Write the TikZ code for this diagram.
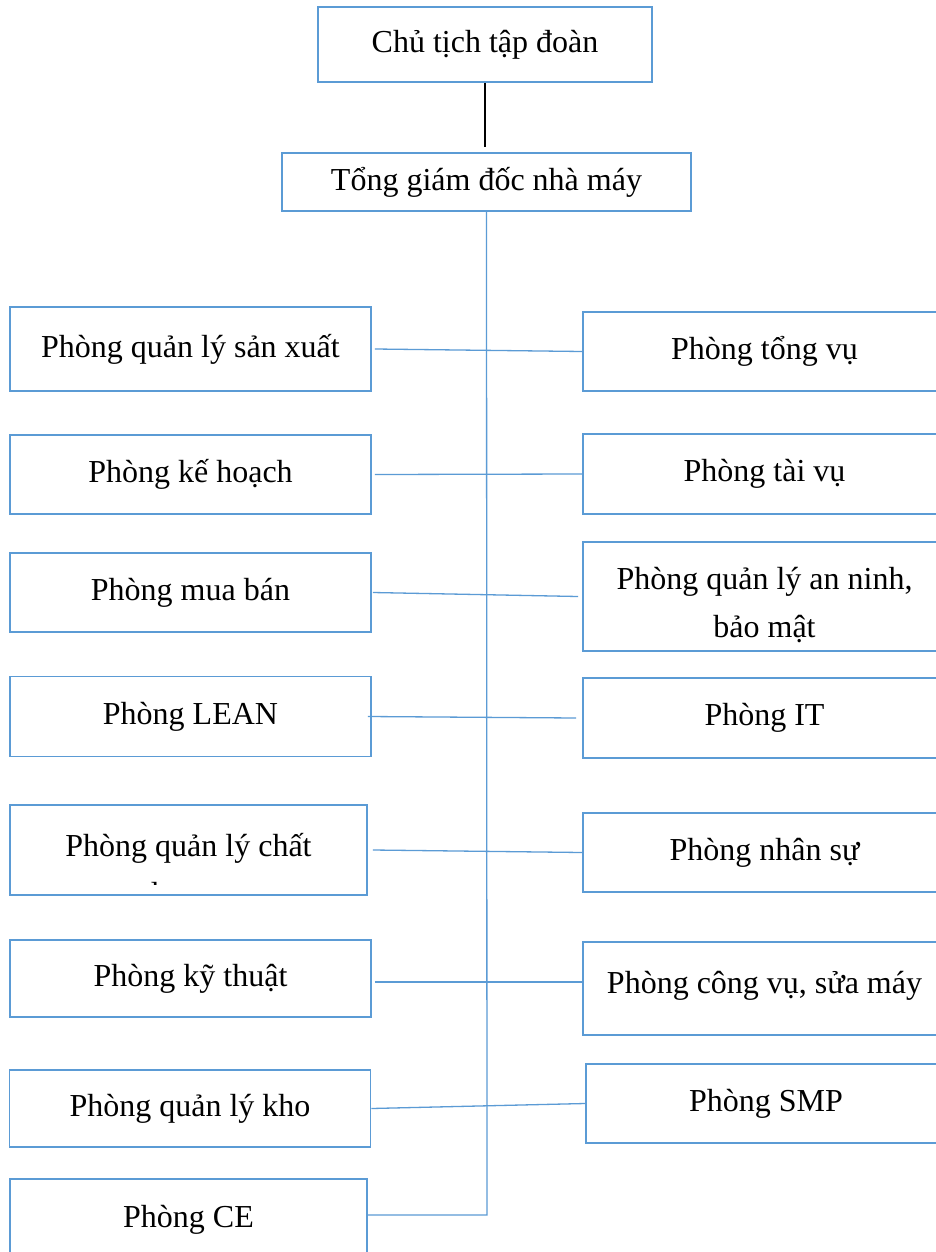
\documentclass[tikz,border=0pt]{standalone}
\usepackage{fontspec}
\setmainfont{Liberation Serif}
\definecolor{boxblue}{HTML}{5B9BD5}
\begin{document}
\begin{tikzpicture}[x=1pt,y=-1pt,
  box/.style={draw=boxblue, line width=1.8pt, minimum height=#1, inner sep=0pt, align=center, font=\fontsize{32}{48}\selectfont},
  lbox/.style={box=#1, minimum width=361pt},
  rbox/.style={box=#1, minimum width=363pt},
  txt/.style={inner sep=0pt, align=center, font=\fontsize{32}{48}\selectfont},
  conn/.style={draw=boxblue, line width=1.3pt},
  topline/.style={draw=black, line width=1.8pt}]
\clip (0,0) rectangle (936,1252);
\fill[white] (0,0) rectangle (936,1252);
% top
\node[box=75pt, minimum width=334pt] (CT) at (485,44.5) {Chủ tịch tập đoàn};
\node[box=58pt, minimum width=409pt] (TGD) at (486.5,182) {Tổng giám đốc nhà máy};
\coordinate (ctend) at (485,147);
\draw[topline] (CT.south) -- (ctend);
% left column
\node[lbox=84pt] (L1) at (190.5,349) {Phòng quản lý sản xuất};
\node[lbox=79pt] (L2) at (190.5,474.5) {Phòng kế hoạch};
\node[lbox=79pt] (L3) at (190.5,592.5) {Phòng mua bán};
\node[lbox=80pt] (L4) at (190.5,716.5) {Phòng LEAN};
\node[box=90pt, minimum width=357pt] (L5) at (188.5,850) {};
\begin{scope}
  \clip (12,807) rectangle (365,884);
  \node[txt] (L5t) at (188.5,872) {Phòng quản lý chất\\lượng};
\end{scope}
\node[lbox=77pt] (L6) at (190.5,978.5) {Phòng kỹ thuật};
\node[lbox=77pt] (L7) at (190,1108.5) {Phòng quản lý kho};
\node[box=82pt, minimum width=357pt] (L8) at (188.5,1220) {Phòng CE};
% right column
\node[rbox=79pt] (R1) at (764.5,351.5) {Phòng tổng vụ};
\node[rbox=80pt] (R2) at (764.5,474) {Phòng tài vụ};
\node[rbox=109pt, label={[txt, yshift=-9pt]center:{Phòng quản lý an ninh,\\bảo mật}}] (R3) at (764.5,596.5) {};
\node[rbox=80pt] (R4) at (764.5,718) {Phòng IT};
\node[rbox=79pt] (R5) at (764.5,852.5) {Phòng nhân sự};
\node[rbox=93pt, label={[txt, yshift=3pt]center:{Phòng công vụ, sửa máy}}] (R6) at (764.5,988.5) {};
\node[box=79pt, minimum width=360pt] (R7) at (766,1103.5) {Phòng SMP};
% trunk
\coordinate (trunkend) at (487,1215);
\draw[conn] (TGD.south) -- (trunkend) -- (L8.east |- trunkend);
% connectors
\draw[conn] ([xshift=3pt]L1.east) -- (R1.west);
\draw[conn] ([xshift=3pt]L2.east) -- (R2.west);
\draw[conn] ([xshift=1pt]L3.east) -- ([xshift=-4pt]R3.west);
\draw[conn] ([xshift=-4pt]L4.east) -- ([xshift=-6pt]R4.west);
\draw[conn] ([xshift=5pt]L5.east) -- (R5.west);
\coordinate (c6) at (0,982);
\draw[conn] ([xshift=3pt]L6.east |- c6) -- (R6.west |- c6);
\draw[conn] (L7.east) -- (R7.west);
\end{tikzpicture}
\end{document}
